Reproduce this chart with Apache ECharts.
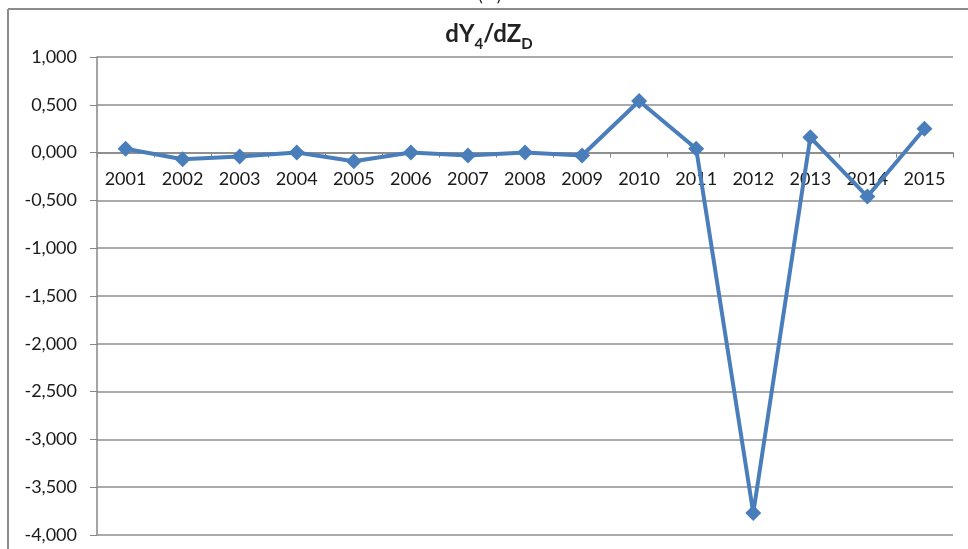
<!DOCTYPE html>
<html><head><meta charset="utf-8">
<script src="https://cdn.jsdelivr.net/npm/echarts@6/dist/echarts.min.js"></script>
<style>html,body{margin:0;padding:0;background:#fff}#c{width:968px;height:549px}</style>
</head><body><div id="c"></div>
<script>
const years = ['2001','2002','2003','2004','2005','2006','2007','2008','2009','2010','2011','2012','2013','2014','2015'];
const values = [0.04,-0.07,-0.04,0.00,-0.09,0.00,-0.03,0.00,-0.03,0.54,0.04,-3.77,0.16,-0.46,0.25];
const yMin = -4, yMax = 1, yStep = 0.5;

const chart = echarts.init(document.getElementById('c'), null, {renderer:'canvas'});
const font = 'Lato, "Open Sans", sans-serif';
const option = {
  animation:false,
  backgroundColor:'#fff',
  title:{
    text:'{a|dY}{s|4}{a|/dZ}{s|D}',
    left:484, top:17, textAlign:'center',
    textStyle:{rich:{
      a:{fontFamily:font,fontSize:24,fontWeight:'bold',color:'#222',verticalAlign:'bottom',padding:[0,0,6,0]},
      s:{fontFamily:font,fontSize:15,fontWeight:'bold',color:'#222',verticalAlign:'bottom'}
    }}
  },
  graphic:[
    {type:'line',shape:{x1:8,y1:9,x2:968,y2:9},style:{stroke:'#8c8c8c',lineWidth:2}},
    {type:'line',shape:{x1:8,y1:9,x2:8,y2:549},style:{stroke:'#8c8c8c',lineWidth:2}},
    {type:'text',left:478,top:-14,style:{text:'(   )',font:'18px '+font,fill:'#222'}}
  ],
  grid:{left:97,right:15,top:57,bottom:14,containLabel:false,outerBoundsMode:'none'},
  xAxis:{
    type:'category',data:years,boundaryGap:true,position:'bottom',offset:0,
    axisLine:{onZero:false,lineStyle:{color:'#868686',width:1.5}},
    axisTick:{show:true,length:5,lineStyle:{color:'#868686'}},
    axisLabel:{fontFamily:font,fontSize:18,color:'#1a1a1a',margin:18},
    splitLine:{show:false}
  },
  yAxis:{
    type:'value',min:yMin,max:yMax,interval:yStep,
    axisLine:{show:true,lineStyle:{color:'#868686',width:1.5}},
    axisTick:{show:true,length:7,lineStyle:{color:'#868686'}},
    axisLabel:{fontFamily:font,fontSize:18,color:'#1a1a1a',margin:20,
      formatter:v=>v.toFixed(3).replace('.',',')},
    splitLine:{show:true,lineStyle:{color:'#8e8e8e',width:1.5}}
  },
  series:[{
    type:'line',data:values,
    lineStyle:{color:'#4A7EBB',width:4},
    itemStyle:{color:'#4A7EBB'},
    symbol:'diamond',symbolSize:16,showSymbol:true,z:5
  }]
};
chart.setOption(option);
// place the category axis on the zero line using the library's own scale
const yZero = chart.convertToPixel({yAxisIndex:0}, 0);
const yBottom = chart.convertToPixel({yAxisIndex:0}, yMin);
chart.setOption({xAxis:{offset:-(yBottom - yZero)}});
</script></body></html>
